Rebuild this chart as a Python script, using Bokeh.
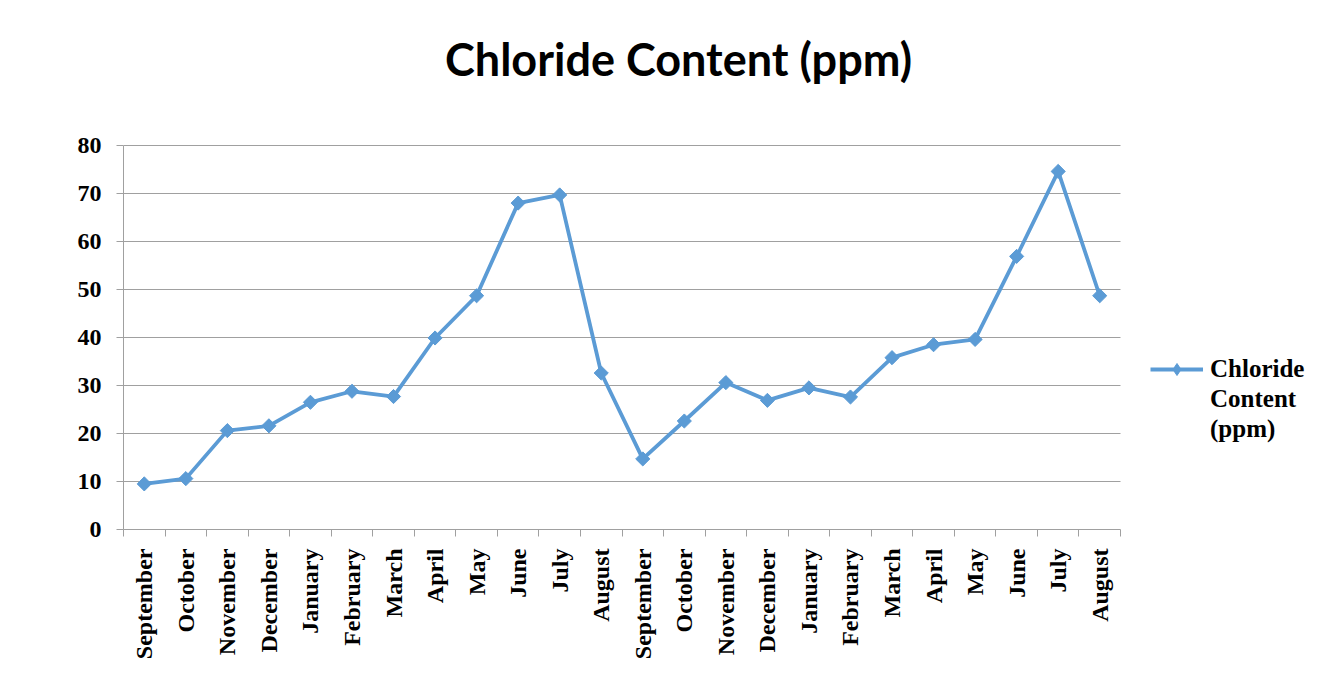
from bokeh.plotting import figure
from bokeh.models import Range1d, FixedTicker, Legend, LegendItem, Label
from bokeh.embed import file_html
from bokeh.resources import INLINE
import math

months = ["September", "October", "November", "December", "January", "February", "March",
          "April", "May", "June", "July", "August",
          "September", "October", "November", "December", "January", "February", "March",
          "April", "May", "June", "July", "August"]
chloride = [9.5, 10.6, 20.6, 21.6, 26.5, 28.8, 27.7, 39.9, 48.7, 68.0, 69.7, 32.6,
            14.7, 22.6, 30.6, 26.9, 29.5, 27.6, 35.8, 38.5, 39.6, 56.9, 74.6, 48.7]
y_ticks = [0, 10, 20, 30, 40, 50, 60, 70, 80]
series_name = ["Chloride", "Content", "(ppm)"]
title_text = "Chloride Content (ppm)"

xs = list(range(len(months)))

# ---- layout (pixels) ----
W, H = 1333, 688
LEFT, BOTTOM = 123, 159            # space for the axes
PLOT_W, PLOT_H = 997, 384          # size of the drawn chart area
FRAME_W, FRAME_H = W - LEFT, H - BOTTOM
n = len(months)
y_max = y_ticks[-1]
x0, x1 = -0.5, n - 0.5
x_end = x0 + (x1 - x0) * FRAME_W / PLOT_W
y_end = y_max * FRAME_H / PLOT_H

def px_to_x(px):  # horizontal pixel from frame left -> data
    return x0 + (x1 - x0) * px / PLOT_W

def px_to_y(px):  # vertical pixel from frame bottom -> data
    return y_max * px / PLOT_H

BLUE = "#5B9BD5"
GRID = "#a0a0a0"
SERIF = "Liberation Serif"
FS = "24px"

p = figure(width=W, height=H, output_backend="svg", toolbar_location=None,
           x_range=Range1d(x0, x_end), y_range=Range1d(0, y_end),
           min_border_left=LEFT, min_border_right=0, min_border_top=0, min_border_bottom=BOTTOM)
p.outline_line_color = None
p.background_fill_color = "white"
p.border_fill_color = "white"

# horizontal grid lines, limited to the chart area
p.xgrid.grid_line_color = None
p.ygrid.ticker = FixedTicker(ticks=y_ticks)
p.ygrid.grid_line_color = GRID
p.ygrid.grid_line_width = 1
try:
    p.ygrid.cross_bounds = (x0, x1)
except Exception:
    p.ygrid.grid_line_color = None
    p.segment(x0=[x0] * len(y_ticks), y0=y_ticks, x1=[x1] * len(y_ticks), y1=y_ticks,
              line_color=GRID, line_width=1)

ln = p.line(xs, chloride, line_color=BLUE, line_width=3.8)
sc = p.scatter(xs, chloride, marker="square", angle=math.pi / 4, size=10,
               fill_color=BLUE, line_color=BLUE)
# legend-only glyphs (zero size in the plot)
leg_marker = p.scatter(xs, chloride, marker="diamond", size=0, fill_color=BLUE, line_color=BLUE)
blank = p.scatter(xs, chloride, size=0, fill_alpha=0, line_alpha=0)

# x axis: labels at category centres, tick marks between categories
xa = p.xaxis[0]
xa.bounds = (x0, x1)
xa.ticker = FixedTicker(ticks=xs, minor_ticks=[i - 0.5 for i in range(n + 1)])
xa.major_label_overrides = {i: m for i, m in enumerate(months)}
xa.major_label_orientation = math.pi / 2
xa.major_tick_line_color = None
xa.major_tick_out = 0
xa.major_tick_in = 0
xa.minor_tick_out = 7
xa.minor_tick_in = 0
xa.minor_tick_line_color = GRID
xa.axis_line_color = GRID
xa.major_label_standoff = 12
xa.major_label_text_font = SERIF
xa.major_label_text_font_style = "bold"
xa.major_label_text_font_size = FS
xa.major_label_text_color = "black"

ya = p.yaxis[0]
ya.bounds = (0, y_max)
ya.ticker = FixedTicker(ticks=y_ticks)
ya.major_tick_out = 7
ya.major_tick_in = 0
ya.minor_tick_line_color = None
ya.major_tick_line_color = GRID
ya.axis_line_color = GRID
ya.major_label_standoff = 15
ya.major_label_text_font = SERIF
ya.major_label_text_font_style = "bold"
ya.major_label_text_font_size = FS
ya.major_label_text_color = "black"

# title (centred on the whole chart box)
p.add_layout(Label(x=px_to_x(678 - LEFT), y=px_to_y(529 - 58), text=title_text,
                   text_font="Lato", text_font_style="bold", text_font_size="45px",
                   text_color="black", text_align="center", text_baseline="alphabetic"))

legend = Legend(items=[LegendItem(label=series_name[0], renderers=[ln, leg_marker]),
                       LegendItem(label=series_name[1], renderers=[blank]),
                       LegendItem(label=series_name[2], renderers=[blank])],
                location=(1027, 85), padding=0, margin=0, border_line_color=None,
                background_fill_alpha=0, glyph_width=53, glyph_height=30, label_height=30,
                spacing=0, label_standoff=7, label_text_font=SERIF, label_text_font_style="bold",
                label_text_font_size="25px", label_text_color="black")
p.add_layout(legend, "center")

open("out.html", "w").write(file_html(p, INLINE))
